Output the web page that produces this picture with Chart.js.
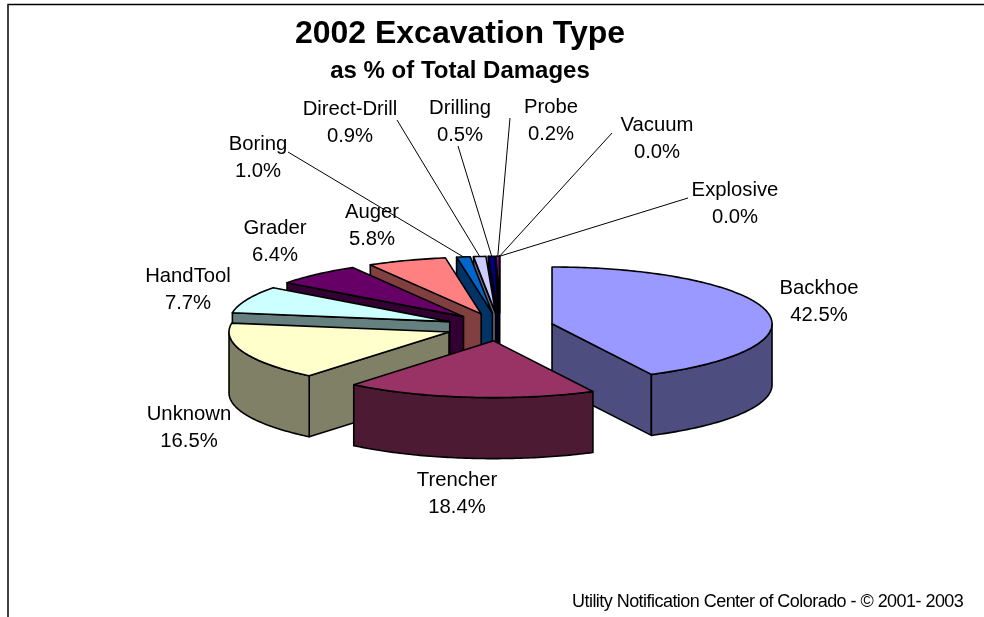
<!DOCTYPE html>
<html><head><meta charset="utf-8">
<style>html,body{margin:0;padding:0;background:#fff;overflow:hidden}#c{display:block}</style>
<script src="https://cdn.jsdelivr.net/npm/chart.js@4"></script>
</head><body><canvas id="c" width="984" height="617"></canvas>
<script>
const categories = ['Backhoe','Trencher','Unknown','HandTool','Grader','Auger','Boring','Direct-Drill','Drilling','Probe','Vacuum','Explosive'];
const percentValues = [42.5,18.4,16.5,7.7,6.4,5.8,1.0,0.9,0.5,0.2,0.0,0.0];
const topColors = ['#9999FF','#993366','#FFFFCC','#CCFFFF','#660066','#FF8080','#0066CC','#CCCCFF','#000080','#FF00FF','#FFFF00','#00FFFF'];
const sideColors = ['#4D4D80','#4D1A33','#808066','#668080','#330033','#804040','#003366','#666680','#000040','#800080','#808000','#008080'];
const titleText = '2002 Excavation Type';
const subtitleText = 'as % of Total Damages';
const footerText = 'Utility Notification Center of Colorado - \u00A9 2001- 2003';

// presentation
const PIE = {cx:499.5, cy:327, squash:0.258, depth:61, explode:54};
const LABEL_FONT = '20.3px "Liberation Sans", Arial, sans-serif';
const labelPos = [[819,288],[457,480],[189,414],[188,276],[275,228],[372,212],[258,144],[350,109],[460,108],[551,107],[657,125],[735,190]];
const leaderFrom = [null,null,null,null,null,null,[288,152],[397,120],[458,146],[510,118],[612,133],[688,198]];

const pie3d = {
  id:'pie3d',
  beforeDraw(chart){
    const c=chart.ctx; c.save();
    c.fillStyle='#fff'; c.fillRect(0,0,chart.width,chart.height);
    c.strokeStyle='#000'; c.lineWidth=1.5;
    c.beginPath(); c.moveTo(8,617); c.lineTo(8,4.5); c.lineTo(984,4.5); c.stroke();
    c.restore();
  },
  beforeDatasetDraw(chart,args){
    const c=chart.ctx, meta=args.meta, {cx,cy,squash:k,depth,explode}=PIE;
    const items=meta.data.map((el,i)=>{
      const mid=(el.startAngle+el.endAngle)/2;
      return {el,i,mid,ox:cx+Math.cos(mid)*explode,oy:cy+Math.sin(mid)*explode*k};
    }).sort((a,b)=>Math.sin(a.mid)-Math.sin(b.mid) || b.i-a.i);
    const pt=(it,a,r)=>[it.ox+Math.cos(a)*r, it.oy+Math.sin(a)*r*k];
    c.save();
    c.lineJoin='round'; c.strokeStyle='#000'; c.lineWidth=1.6;
    for(const it of items){
      const el=it.el, r=el.outerRadius, s=el.startAngle, e=el.endAngle;
      c.fillStyle=sideColors[it.i];
      const quad=(a)=>{
        const p=pt(it,a,r);
        c.beginPath(); c.moveTo(it.ox,it.oy); c.lineTo(p[0],p[1]); c.lineTo(p[0],p[1]+depth); c.lineTo(it.ox,it.oy+depth); c.closePath(); c.fill(); c.stroke();
      };
      if(-Math.cos(s)>0) quad(s);
      if(Math.cos(e)>0) quad(e);
      // outer wall: the part of the rim that faces the viewer
      for(const w of [0,2*Math.PI,-2*Math.PI]){
        const a0=Math.max(s,w), a1=Math.min(e,w+Math.PI);
        if(a1<=a0) continue;
        c.beginPath();
        const n=Math.max(2,Math.ceil((a1-a0)*60));
        for(let j=0;j<=n;j++){const p=pt(it,a0+(a1-a0)*j/n,r); j?c.lineTo(p[0],p[1]):c.moveTo(p[0],p[1]);}
        for(let j=n;j>=0;j--){const p=pt(it,a0+(a1-a0)*j/n,r); c.lineTo(p[0],p[1]+depth);}
        c.closePath(); c.fill(); c.stroke();
      }
      // top face: the library's own arc, squashed
      c.save();
      c.translate(it.ox,it.oy); c.scale(1,k); c.translate(-el.x,-el.y);
      el.draw(c);
      c.restore();
      c.beginPath(); c.moveTo(it.ox,it.oy);
      const n=Math.max(1,Math.ceil((e-s)*60));
      for(let j=0;j<=n;j++){const p=pt(it,s+(e-s)*j/n,r); c.lineTo(p[0],p[1]);}
      c.closePath(); c.stroke();
    }
    // leader lines
    c.lineWidth=1; c.strokeStyle='#000';
    for(const it of items){
      const f=leaderFrom[it.i]; if(!f) continue;
      const p=pt(it,it.mid,it.el.outerRadius);
      c.beginPath(); c.moveTo(f[0],f[1]); c.lineTo(p[0],p[1]); c.stroke();
    }
    // data labels
    c.font=LABEL_FONT; c.fillStyle='#000'; c.textAlign='center'; c.textBaseline='middle';
    categories.forEach((name,i)=>{
      const [x,y]=labelPos[i];
      c.fillText(name,x,y);
      c.fillText(percentValues[i].toFixed(1)+'%',x,y+27.5);
    });
    // source note
    c.font='18px "Liberation Sans", Arial, sans-serif'; c.textAlign='left';
    if('letterSpacing' in c) c.letterSpacing='-0.54px';
    c.fillText(footerText,572,602);
    c.restore();
    return false;
  }
};

new Chart(document.getElementById('c'),{
  type:'pie',
  data:{labels:categories,datasets:[{data:percentValues,backgroundColor:topColors,borderWidth:0}]},
  options:{
    responsive:false,animation:false,radius:220,
    layout:{padding:{left:0,right:64,top:0,bottom:0}},
    events:[],
    plugins:{
      legend:{display:false},tooltip:{enabled:false},
      title:{display:true,text:titleText,color:'#000',font:{family:'"Liberation Sans", Arial, sans-serif',size:32,weight:'bold'},padding:{top:15,bottom:0}},
      subtitle:{display:true,text:subtitleText,color:'#000',font:{family:'"Liberation Sans", Arial, sans-serif',size:24,weight:'bold'},padding:{top:4,bottom:4}}
    }
  },
  plugins:[pie3d]
});
</script></body></html>
